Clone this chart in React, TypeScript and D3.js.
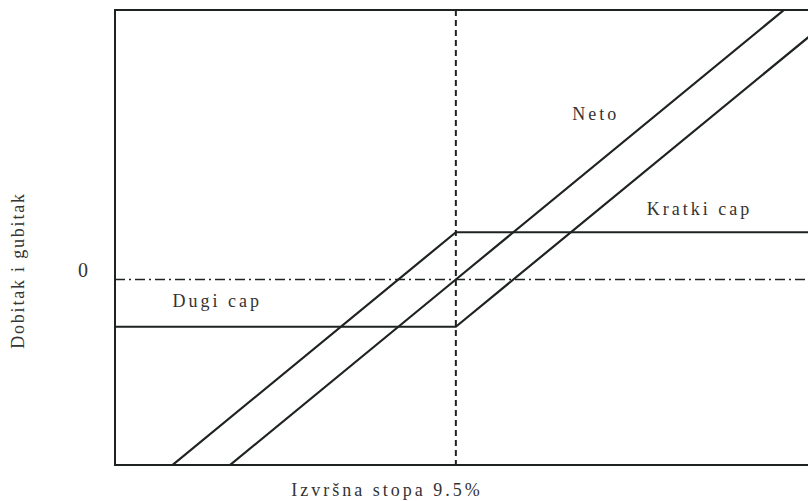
import React from "react";
import * as d3 from "d3";

const strike = 9.5;
const xDomain = [1.5, 18];
const yDomain = [-5.3, 7.7];
const rates = [1.5, 9.5, 18];
const kratkiCap = [-6.65, 1.35, 1.35];
const dugiCap = [-1.35, -1.35, 7.15];
const neto = [-8, 0, 8.5];
const labels = ["Neto", "Kratki cap", "Dugi cap"];

const W = 808, H = 501;
const L = 115, R = 818, T = 10, B = 465;

export default function App() {
  const x = d3.scaleLinear().domain(xDomain).range([L, R]);
  const y = d3.scaleLinear().domain(yDomain).range([B, T]);
  const line = d3.line<[number, number]>().x(d => x(d[0])).y(d => y(d[1]));
  const series = [kratkiCap, dugiCap, neto].map(vals => rates.map((r, i) => [r, vals[i]] as [number, number]));
  const font = "'Liberation Serif', 'DejaVu Serif', serif";
  const ink = "#1e2320";
  return (
    <svg width={W} height={H} style={{ position: "absolute", left: 0, top: 0, background: "#fff" }}>
      <defs>
        <clipPath id="plot"><rect x={L} y={T} width={R - L} height={B - T} /></clipPath>
      </defs>
      <rect x={L} y={T} width={R - L} height={B - T} fill="none" stroke={ink} strokeWidth={2} />
      <line x1={x(strike)} x2={x(strike)} y1={T} y2={B} stroke={ink} strokeWidth={2} strokeDasharray="6,4" />
      <line x1={L} x2={R} y1={y(0)} y2={y(0)} stroke={ink} strokeWidth={1.5} strokeDasharray="10,4,2,4" />
      <g clipPath="url(#plot)">
        {series.map((s, i) => (
          <path key={i} d={line(s) || ""} fill="none" stroke={ink} strokeWidth={2.2} />
        ))}
      </g>
      <g fontFamily={font} fontSize={18} fill="#333" letterSpacing={3}>
        <text x={x(12.23)} y={y(4.56)}>{labels[0]}</text>
        <text x={x(13.98)} y={y(1.84)}>{labels[1]}</text>
        <text x={x(2.85)} y={y(-0.79)}>{labels[2]}</text>
        <text x={83} y={277} textAnchor="middle" fontSize={20} letterSpacing={0}>0</text>
        <text transform={`translate(24,${y(0) - 9}) rotate(-90)`} textAnchor="middle" letterSpacing={1.8}>Dobitak i gubitak</text>
        <text x={387} y={496} textAnchor="middle">Izvršna stopa 9.5%</text>
      </g>
    </svg>
  );
}
